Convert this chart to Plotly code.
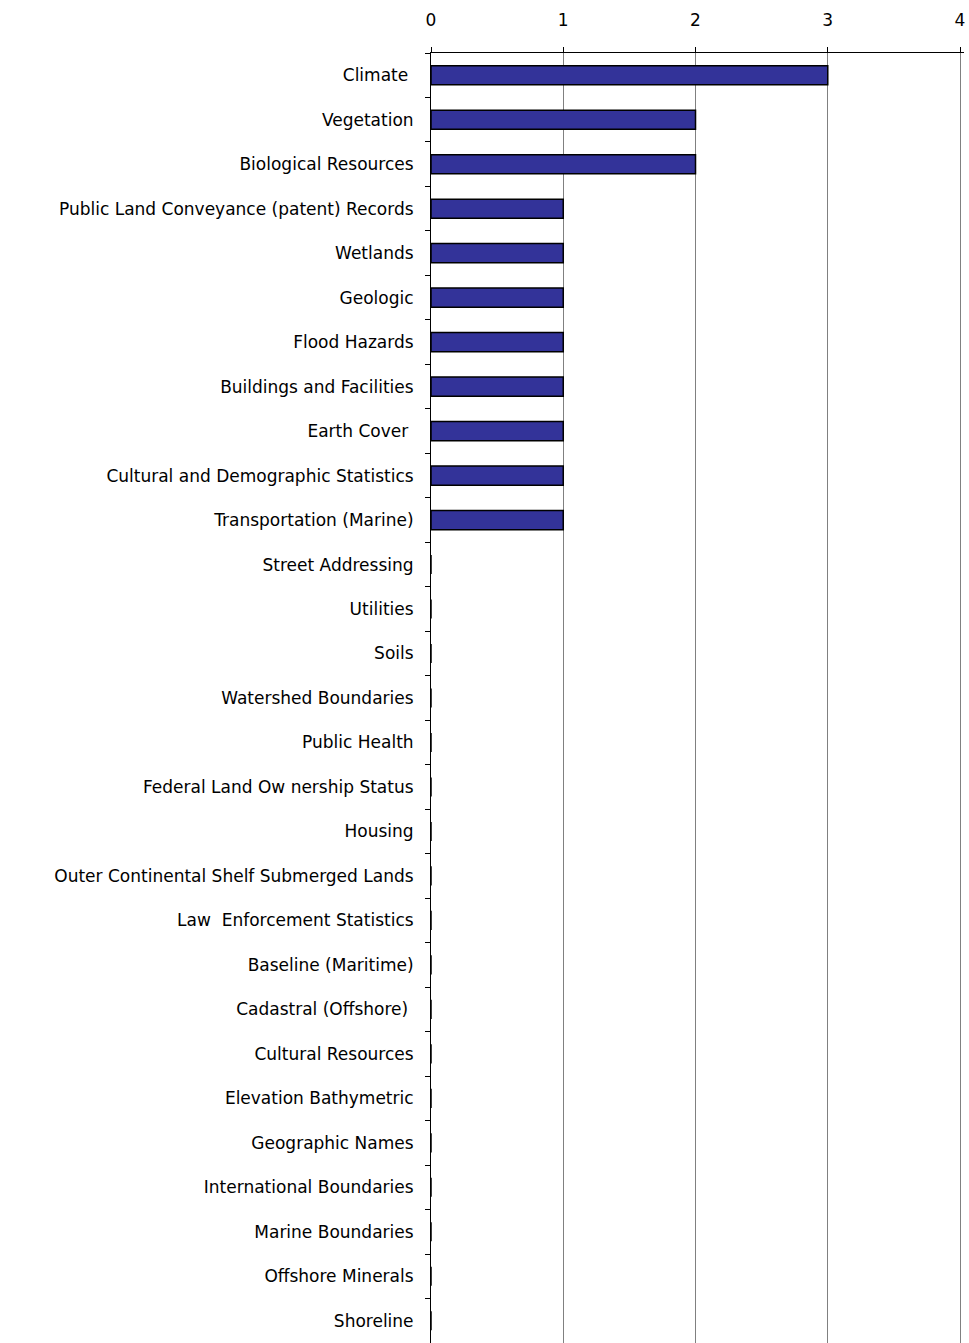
import plotly.graph_objects as go

categories = [
    "Climate\u00a0", "Vegetation", "Biological Resources",
    "Public Land Conveyance (patent) Records", "Wetlands", "Geologic",
    "Flood Hazards", "Buildings and Facilities", "Earth Cover\u00a0",
    "Cultural and Demographic Statistics", "Transportation (Marine)",
    "Street Addressing", "Utilities", "Soils", "Watershed Boundaries",
    "Public Health", "Federal Land Ow nership Status", "Housing",
    "Outer Continental Shelf Submerged Lands", "Law  Enforcement Statistics",
    "Baseline (Maritime)", "Cadastral (Offshore)\u00a0", "Cultural Resources",
    "Elevation Bathymetric", "Geographic Names", "International Boundaries",
    "Marine Boundaries", "Offshore Minerals", "Shoreline",
]
values = [3, 2, 2, 1, 1, 1, 1, 1, 1, 1, 1,
          0, 0, 0, 0, 0, 0, 0, 0, 0, 0, 0, 0, 0, 0, 0, 0, 0, 0]
x_ticks = [0, 1, 2, 3, 4]

font_family = "DejaVu Sans, Arial, sans-serif"

fig = go.Figure(go.Bar(
    y=categories, x=values, orientation="h",
    marker=dict(color="#333399", line=dict(color="black", width=1.5)),
    width=0.43,
))

fig.update_layout(
    width=969, height=1343,
    margin=dict(l=431, r=5, t=53, b=0, autoexpand=False),
    paper_bgcolor="white", plot_bgcolor="white",
    showlegend=False,
    font=dict(family=font_family, size=17, color="black"),
)
fig.update_xaxes(
    side="top", range=[0, 4.03], tickvals=x_ticks, ticktext=[str(v) for v in x_ticks],
    showgrid=True, gridcolor="#808080", gridwidth=1,
    showline=True, linecolor="black", linewidth=1,
    ticks="outside", ticklen=5, tickcolor="black",
    zeroline=False, ticklabelstandoff=14,
    tickfont=dict(size=17),
)
fig.update_yaxes(
    type="category", autorange="reversed",
    showgrid=False, showline=True, linecolor="black", linewidth=1,
    ticks="outside", ticklen=5, tickcolor="black", tickson="boundaries",
    ticklabelstandoff=13,
    tickfont=dict(size=17),
)

fig.write_html(
    "out.html",
    config={"displayModeBar": False},
    post_script="document.body.style.margin='0';document.body.style.overflow='hidden';",
)
